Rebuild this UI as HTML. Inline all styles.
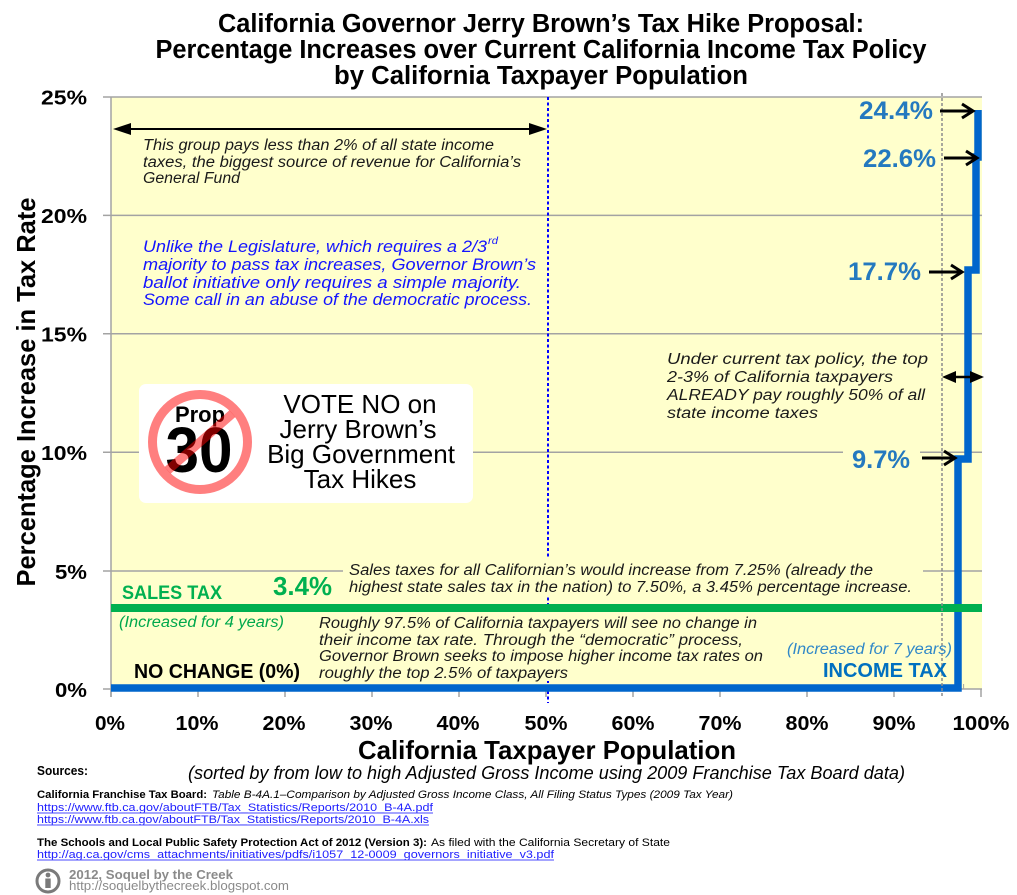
<!DOCTYPE html>
<html>
<head>
<meta charset="utf-8">
<style>
  html, body { margin: 0; padding: 0; background: #ffffff; }
  svg { display: block; }
  text { font-family: "Liberation Sans", "DejaVu Sans", sans-serif; }
  .b { font-weight: bold; }
  .i { font-style: italic; }
</style>
</head>
<body>
<svg width="1017" height="895" viewBox="0 0 1017 895" xmlns="http://www.w3.org/2000/svg">
  <rect x="0" y="0" width="1017" height="895" fill="#ffffff"/>

  <!-- Title -->
  <g class="b" font-size="25.5" fill="#000" text-anchor="middle">
    <text x="541" y="32" textLength="646" lengthAdjust="spacingAndGlyphs">California Governor Jerry Brown’s Tax Hike Proposal:</text>
    <text x="541" y="58" textLength="771" lengthAdjust="spacingAndGlyphs">Percentage Increases over Current California Income Tax Policy</text>
    <text x="541" y="84" textLength="414" lengthAdjust="spacingAndGlyphs">by California Taxpayer Population</text>
  </g>

  <!-- Plot background -->
  <rect x="111" y="97" width="871" height="592" fill="#FFFFCC"/>

  <!-- Gridlines -->
  <g stroke="#A3A3A3" stroke-width="1.5">
    <line x1="103" y1="97" x2="982" y2="97"/>
    <line x1="103" y1="215.4" x2="982" y2="215.4"/>
    <line x1="103" y1="333.8" x2="982" y2="333.8"/>
    <line x1="103" y1="452.2" x2="982" y2="452.2"/>
    <line x1="103" y1="571" x2="982" y2="571"/>
    <line x1="103" y1="689" x2="982" y2="689"/>
    <line x1="111" y1="97" x2="111" y2="697"/>
  </g>
  <!-- X ticks -->
  <g stroke="#A3A3A3" stroke-width="1.5">
    <line x1="111" y1="689" x2="111" y2="697"/>
    <line x1="198" y1="689" x2="198" y2="697"/>
    <line x1="285" y1="689" x2="285" y2="697"/>
    <line x1="372" y1="689" x2="372" y2="697"/>
    <line x1="459" y1="689" x2="459" y2="697"/>
    <line x1="546" y1="689" x2="546" y2="697"/>
    <line x1="633" y1="689" x2="633" y2="697"/>
    <line x1="720" y1="689" x2="720" y2="697"/>
    <line x1="807" y1="689" x2="807" y2="697"/>
    <line x1="894" y1="689" x2="894" y2="697"/>
    <line x1="981" y1="689" x2="981" y2="697"/>
  </g>
  <g stroke="#A3A3A3" stroke-width="1">
    <line x1="963.6" y1="684" x2="963.6" y2="689"/>
  </g>

  <!-- Dashed verticals -->
  <line x1="548" y1="97" x2="548" y2="703" stroke="#0000FF" stroke-width="2" stroke-dasharray="3 2.5"/>

  <!-- Yellow text boxes covering lines -->
  <rect x="343" y="559" width="580" height="37" fill="#FFFFCC"/>
  <rect x="315" y="613" width="452" height="68" fill="#FFFFCC"/>
  <rect x="843" y="446" width="77" height="26" fill="#FFFFCC"/>

  <!-- Income tax step line -->
  <path d="M111,688 H958 V459 H968 V270 H976 V157 H978 V110" fill="none" stroke="#0066CC" stroke-width="7.5" stroke-linejoin="miter"/>

  <!-- Sales tax line -->
  <line x1="111" y1="608" x2="982" y2="608" stroke="#00B050" stroke-width="8"/>

  <line x1="942" y1="93" x2="942" y2="697" stroke="#8C8C8C" stroke-width="1.5" stroke-dasharray="3 2"/>

  <!-- Y tick labels -->
  <g class="b" font-size="20.5" fill="#000" text-anchor="end">
    <text x="87" y="104.5" textLength="46" lengthAdjust="spacingAndGlyphs">25%</text>
    <text x="87" y="223" textLength="46" lengthAdjust="spacingAndGlyphs">20%</text>
    <text x="87" y="341.5" textLength="46" lengthAdjust="spacingAndGlyphs">15%</text>
    <text x="87" y="460" textLength="46" lengthAdjust="spacingAndGlyphs">10%</text>
    <text x="87" y="579" textLength="32" lengthAdjust="spacingAndGlyphs">5%</text>
    <text x="87" y="697" textLength="32" lengthAdjust="spacingAndGlyphs">0%</text>
  </g>

  <!-- X tick labels -->
  <g class="b" font-size="20.5" fill="#000" text-anchor="middle">
    <text x="110" y="730" textLength="30" lengthAdjust="spacingAndGlyphs">0%</text>
    <text x="197" y="730" textLength="43" lengthAdjust="spacingAndGlyphs">10%</text>
    <text x="284" y="730" textLength="43" lengthAdjust="spacingAndGlyphs">20%</text>
    <text x="371" y="730" textLength="43" lengthAdjust="spacingAndGlyphs">30%</text>
    <text x="458" y="730" textLength="43" lengthAdjust="spacingAndGlyphs">40%</text>
    <text x="546" y="730" textLength="43" lengthAdjust="spacingAndGlyphs">50%</text>
    <text x="633" y="730" textLength="43" lengthAdjust="spacingAndGlyphs">60%</text>
    <text x="720" y="730" textLength="43" lengthAdjust="spacingAndGlyphs">70%</text>
    <text x="807" y="730" textLength="43" lengthAdjust="spacingAndGlyphs">80%</text>
    <text x="894" y="730" textLength="43" lengthAdjust="spacingAndGlyphs">90%</text>
    <text x="981" y="730" textLength="57" lengthAdjust="spacingAndGlyphs">100%</text>
  </g>

  <!-- Axis titles -->
  <text class="b" font-size="26" fill="#000" text-anchor="middle" transform="translate(35,392) rotate(-90)" textLength="389" lengthAdjust="spacingAndGlyphs">Percentage Increase in Tax Rate</text>
  <text class="b" font-size="26" fill="#000" x="547" y="759" text-anchor="middle" textLength="378" lengthAdjust="spacingAndGlyphs">California Taxpayer Population</text>
  <text class="i" font-size="18" fill="#000" x="188" y="779" textLength="717" lengthAdjust="spacingAndGlyphs">(sorted by from low to high Adjusted Gross Income using 2009 Franchise Tax Board data)</text>

  <!-- Top double arrow -->
  <line x1="128" y1="129" x2="532" y2="129" stroke="#000" stroke-width="2"/>
  <polygon points="113,129 131,123 131,135" fill="#000"/>
  <polygon points="547,129 529,123 529,135" fill="#000"/>

  <!-- This group text -->
  <g class="i" font-size="15.5" fill="#1a1a1a">
    <text x="143" y="150" textLength="351" lengthAdjust="spacingAndGlyphs">This group pays less than 2% of all state income</text>
    <text x="143" y="167" textLength="378" lengthAdjust="spacingAndGlyphs">taxes, the biggest source of revenue for California’s</text>
    <text x="143" y="183" textLength="97" lengthAdjust="spacingAndGlyphs">General Fund</text>
  </g>

  <!-- Blue text -->
  <g class="i" font-size="16.5" fill="#1414FF">
    <text x="143" y="252" textLength="344" lengthAdjust="spacingAndGlyphs">Unlike the Legislature, which requires a 2/3</text>
    <text x="488" y="244" font-size="10" textLength="10" lengthAdjust="spacingAndGlyphs">rd</text>
    <text x="143" y="270" textLength="393" lengthAdjust="spacingAndGlyphs">majority to pass tax increases, Governor Brown’s</text>
    <text x="143" y="288" textLength="378" lengthAdjust="spacingAndGlyphs">ballot initiative only requires a simple majority.</text>
    <text x="143" y="305" textLength="389" lengthAdjust="spacingAndGlyphs">Some call in an abuse of the democratic process.</text>
  </g>

  <!-- Prop 30 box -->
  <rect x="139" y="384" width="334" height="119" rx="7" ry="7" fill="#ffffff"/>
  <text class="b" font-size="22" fill="#000" x="200" y="422" text-anchor="middle" textLength="50" lengthAdjust="spacingAndGlyphs">Prop</text>
  <text class="b" font-size="64" fill="#000" x="199" y="472" text-anchor="middle" textLength="67" lengthAdjust="spacingAndGlyphs">30</text>
  <circle cx="200" cy="442" r="47.5" fill="none" stroke="rgba(255,0,0,0.5)" stroke-width="9"/>
  <defs>
    <clipPath id="inner"><circle cx="200" cy="442" r="43.2"/></clipPath>
  </defs>
  <line x1="240" y1="407" x2="160" y2="477" stroke="rgba(255,0,0,0.5)" stroke-width="9" clip-path="url(#inner)"/>
  <g font-size="26" fill="#000" text-anchor="middle">
    <text x="360" y="413">VOTE NO on</text>
    <text x="358" y="438">Jerry Brown’s</text>
    <text x="361" y="463">Big Government</text>
    <text x="360" y="488">Tax Hikes</text>
  </g>

  <!-- Value labels -->
  <g class="b" font-size="24.7" fill="#2479BF">
    <text x="859" y="119" textLength="74" lengthAdjust="spacingAndGlyphs">24.4%</text>
    <text x="863" y="167" textLength="73" lengthAdjust="spacingAndGlyphs">22.6%</text>
    <text x="848" y="280" textLength="73" lengthAdjust="spacingAndGlyphs">17.7%</text>
    <text x="852" y="468" textLength="58" lengthAdjust="spacingAndGlyphs">9.7%</text>
  </g>

  <!-- Value arrows -->
  <g stroke="#000" stroke-width="3" fill="none" stroke-linejoin="miter">
    <line x1="940" y1="111" x2="971" y2="111"/>
    <polyline points="962,104 973,111 962,118"/>
    <line x1="944" y1="158" x2="975" y2="158"/>
    <polyline points="966,151 977,158 966,165"/>
    <line x1="929" y1="272" x2="960" y2="272"/>
    <polyline points="951,265 962,272 951,279"/>
    <line x1="922" y1="458" x2="953" y2="458"/>
    <polyline points="944,451 955,458 944,465"/>
  </g>

  <!-- Double arrow at 2-3% -->
  <line x1="955" y1="377" x2="971" y2="377" stroke="#000" stroke-width="2.5"/>
  <polygon points="942,377 956,371 956,383" fill="#000"/>
  <polygon points="984,377 970,371 970,383" fill="#000"/>

  <!-- Under current tax policy text -->
  <g class="i" font-size="15.5" fill="#1a1a1a">
    <text x="667" y="364" textLength="261" lengthAdjust="spacingAndGlyphs">Under current tax policy, the top</text>
    <text x="667" y="382" textLength="226" lengthAdjust="spacingAndGlyphs">2-3% of California taxpayers</text>
    <text x="667" y="400" textLength="258" lengthAdjust="spacingAndGlyphs">ALREADY pay roughly 50% of all</text>
    <text x="667" y="418" textLength="151" lengthAdjust="spacingAndGlyphs">state income taxes</text>
  </g>

  <!-- Sales tax text -->
  <g class="i" font-size="15.5" fill="#1a1a1a">
    <text x="349" y="575" textLength="524" lengthAdjust="spacingAndGlyphs">Sales taxes for all Californian’s would increase from 7.25% (already the</text>
    <text x="349" y="592" textLength="563" lengthAdjust="spacingAndGlyphs">highest state sales tax in the nation) to 7.50%, a 3.45% percentage increase.</text>
  </g>
  <text class="b" font-size="19.5" fill="#00B050" x="122" y="599" textLength="100" lengthAdjust="spacingAndGlyphs">SALES TAX</text>
  <text class="b" font-size="26" fill="#00B050" x="273" y="595" textLength="59" lengthAdjust="spacingAndGlyphs">3.4%</text>
  <text class="i" font-size="15.5" fill="#00A84C" x="119" y="627" textLength="165" lengthAdjust="spacingAndGlyphs">(Increased for 4 years)</text>

  <!-- Roughly text -->
  <g class="i" font-size="15.5" fill="#1a1a1a">
    <text x="319" y="628" textLength="438" lengthAdjust="spacingAndGlyphs">Roughly 97.5% of California taxpayers will see no change in</text>
    <text x="319" y="645" textLength="424" lengthAdjust="spacingAndGlyphs">their income tax rate.  Through the “democratic” process,</text>
    <text x="319" y="661" textLength="444" lengthAdjust="spacingAndGlyphs">Governor Brown seeks to impose higher income tax rates on</text>
    <text x="319" y="678" textLength="249" lengthAdjust="spacingAndGlyphs">roughly the top 2.5% of taxpayers</text>
  </g>
  <text class="b" font-size="20" fill="#000" x="134" y="678" textLength="166" lengthAdjust="spacingAndGlyphs">NO CHANGE (0%)</text>
  <text class="i" font-size="15.5" fill="#3088C8" x="787" y="654" textLength="165" lengthAdjust="spacingAndGlyphs">(Increased for 7 years)</text>
  <text class="b" font-size="20" fill="#0070C0" x="823" y="677" textLength="124" lengthAdjust="spacingAndGlyphs">INCOME TAX</text>

  <!-- Sources -->
  <text class="b" font-size="13" fill="#000" x="37" y="775" textLength="51" lengthAdjust="spacingAndGlyphs">Sources:</text>
  <text class="b" font-size="11" fill="#000" x="37" y="798" textLength="170" lengthAdjust="spacingAndGlyphs">California Franchise Tax Board:</text>
  <text class="i" font-size="11" fill="#000" x="212" y="798" textLength="521" lengthAdjust="spacingAndGlyphs">Table B-4A.1–Comparison by Adjusted Gross Income Class, All Filing Status Types (2009 Tax Year)</text>
  <g font-size="11" fill="#2020FF">
    <text x="37" y="811" textLength="396" lengthAdjust="spacingAndGlyphs">https://www.ftb.ca.gov/aboutFTB/Tax_Statistics/Reports/2010_B-4A.pdf</text>
    <text x="37" y="823" textLength="392" lengthAdjust="spacingAndGlyphs">https://www.ftb.ca.gov/aboutFTB/Tax_Statistics/Reports/2010_B-4A.xls</text>
    <text x="37" y="858" textLength="517" lengthAdjust="spacingAndGlyphs">http://ag.ca.gov/cms_attachments/initiatives/pdfs/i1057_12-0009_governors_initiative_v3.pdf</text>
  </g>
  <g stroke="#4848FF" stroke-width="1">
    <line x1="37" y1="813" x2="433" y2="813"/>
    <line x1="37" y1="825" x2="429" y2="825"/>
    <line x1="37" y1="860" x2="554" y2="860"/>
  </g>
  <text class="b" font-size="11" fill="#000" x="37" y="846" textLength="390" lengthAdjust="spacingAndGlyphs">The Schools and Local Public Safety Protection Act of 2012 (Version 3):</text>
  <text font-size="11" fill="#000" x="431" y="846" textLength="239" lengthAdjust="spacingAndGlyphs">As filed with the California Secretary of State</text>

  <!-- Footer credit -->
  <circle cx="48" cy="881" r="11" fill="none" stroke="#7a7a7a" stroke-width="3"/>
  <circle cx="48" cy="875" r="2.4" fill="#7a7a7a"/>
  <rect x="45.3" y="878.5" width="5.4" height="9.5" fill="#7a7a7a"/>
  <text class="b" font-size="12.5" fill="#8a8a8a" x="69" y="879" textLength="164" lengthAdjust="spacingAndGlyphs">2012, Soquel by the Creek</text>
  <text font-size="12.5" fill="#8a8a8a" x="69" y="890" textLength="220" lengthAdjust="spacingAndGlyphs">http://soquelbythecreek.blogspot.com</text>
</svg>
</body>
</html>
